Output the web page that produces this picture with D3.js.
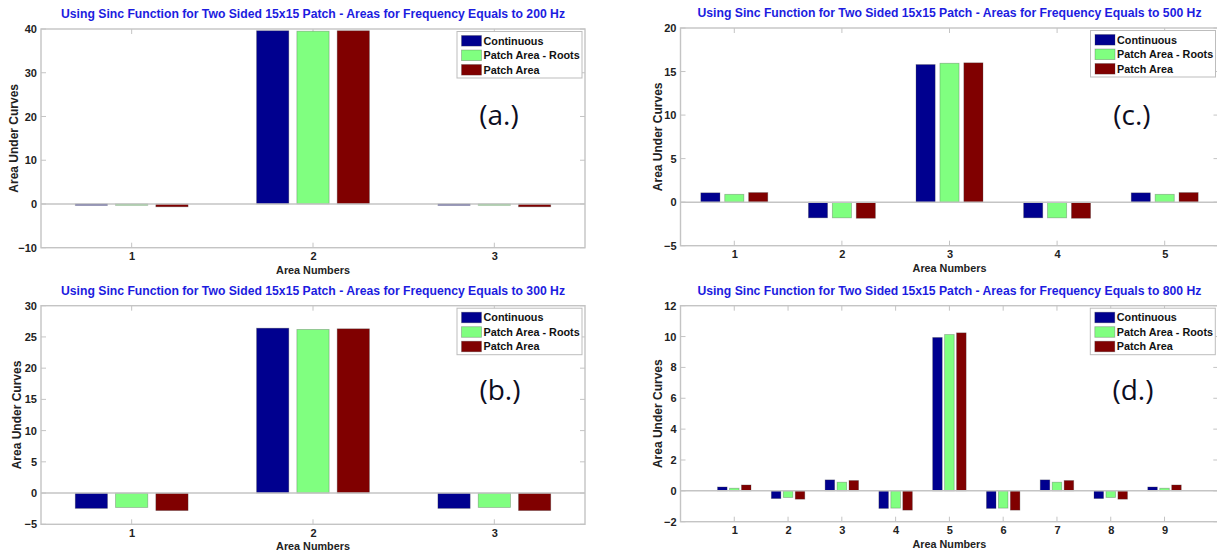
<!DOCTYPE html>
<html>
<head>
<meta charset="utf-8">
<script src="https://cdn.jsdelivr.net/npm/d3@7"></script>
<style>
  html, body { margin: 0; padding: 0; background: #fff; }
  svg { display: block; }
</style>
</head>
<body>
<svg id="fig" width="1217" height="553"></svg>
<script>
// Series shown in every panel
const seriesNames = ["Continuous", "Patch Area - Roots", "Patch Area"];

// (a.) 200 Hz
const areasA = [1, 2, 3];
const continuousA = [-0.3, 39.6, -0.3];
const rootsA = [-0.3, 39.5, -0.3];
const patchA = [-0.65, 39.6, -0.65];
const yTicksA = [-10, 0, 10, 20, 30, 40];

// (b.) 300 Hz
const areasB = [1, 2, 3];
const continuousB = [-2.45, 26.4, -2.45];
const rootsB = [-2.3, 26.2, -2.3];
const patchB = [-2.8, 26.3, -2.8];
const yTicksB = [-5, 0, 5, 10, 15, 20, 25, 30];

// (c.) 500 Hz
const areasC = [1, 2, 3, 4, 5];
const continuousC = [1.07, -1.8, 15.8, -1.8, 1.07];
const rootsC = [0.9, -1.8, 15.95, -1.8, 0.9];
const patchC = [1.1, -1.85, 16.0, -1.85, 1.1];
const yTicksC = [-5, 0, 5, 10, 15, 20];

// (d.) 800 Hz
const areasD = [1, 2, 3, 4, 5, 6, 7, 8, 9];
const continuousD = [0.25, -0.5, 0.71, -1.14, 9.94, -1.14, 0.71, -0.5, 0.25];
const rootsD = [0.17, -0.43, 0.56, -1.12, 10.13, -1.12, 0.56, -0.43, 0.17];
const patchD = [0.38, -0.54, 0.67, -1.25, 10.24, -1.25, 0.67, -0.54, 0.38];
const yTicksD = [-2, 0, 2, 4, 6, 8, 10, 12];

const frequencies = [200, 300, 500, 800];
const panelTags = ["(a.)", "(b.)", "(c.)", "(d.)"];

const colors = ["#00008f", "#80ff80", "#800000"];
const axisGray = "#c4c4c4";
const textFont = "'Liberation Sans', Arial, sans-serif";

const panels = [
  { areas: areasA, series: [continuousA, rootsA, patchA], yTicks: yTicksA, freq: frequencies[0], tag: panelTags[0],
    xDom: [0.5, 3.5], yDom: [-10, 40], left: 41, right: 585, top: 29, bottom: 247.7, yLabelX: 14, tagX: 499, tagY: 125 },
  { areas: areasB, series: [continuousB, rootsB, patchB], yTicks: yTicksB, freq: frequencies[1], tag: panelTags[1],
    xDom: [0.5, 3.5], yDom: [-5, 30], left: 41, right: 585, top: 305.7, bottom: 524.3, yLabelX: 17, tagX: 500, tagY: 400 },
  { areas: areasC, series: [continuousC, rootsC, patchC], yTicks: yTicksC, freq: frequencies[2], tag: panelTags[2],
    xDom: [0.5, 5.5], yDom: [-5, 20], left: 680.5, right: 1218.5, top: 28, bottom: 245.7, yLabelX: 658, tagX: 1132, tagY: 125 },
  { areas: areasD, series: [continuousD, rootsD, patchD], yTicks: yTicksD, freq: frequencies[3], tag: panelTags[3],
    xDom: [0, 10], yDom: [-2, 12], left: 680.5, right: 1218.3, top: 305.7, bottom: 521.7, yLabelX: 658, tagX: 1133, tagY: 400 }
];

const svg = d3.select("#fig");

// grouped bar geometry, in x-axis units
const groupOffset = 2 / 9;
const barWidth = 0.8 * groupOffset;

panels.forEach(p => {
  const g = svg.append("g");
  const x = d3.scaleLinear().domain(p.xDom).range([p.left, p.right]);
  const y = d3.scaleLinear().domain(p.yDom).range([p.bottom, p.top]);
  const tickLen = 5;

  // title
  g.append("text")
    .attr("x", (p.left + p.right) / 2)
    .attr("y", p.top - 11)
    .attr("text-anchor", "middle")
    .attr("font-family", textFont)
    .attr("font-weight", "bold")
    .attr("font-size", 12)
    .attr("fill", "#1c1ce0")
    .attr("textLength", 504)
    .attr("lengthAdjust", "spacingAndGlyphs")
    .text(`Using Sinc Function for Two Sided 15x15 Patch - Areas for Frequency Equals to ${p.freq} Hz`);

  // axes box
  g.append("rect")
    .attr("x", p.left).attr("y", p.top)
    .attr("width", p.right - p.left).attr("height", p.bottom - p.top)
    .attr("fill", "none").attr("stroke", axisGray).attr("stroke-width", 1.4);

  // inward ticks on all four sides
  const tickSel = g.append("g");
  p.yTicks.forEach(t => {
    tickSel.append("line").attr("x1", p.left).attr("x2", p.left + tickLen)
      .attr("y1", y(t)).attr("y2", y(t)).attr("stroke", axisGray).attr("stroke-width", 1);
    tickSel.append("line").attr("x1", p.right).attr("x2", p.right - tickLen)
      .attr("y1", y(t)).attr("y2", y(t)).attr("stroke", axisGray).attr("stroke-width", 1);
  });
  p.areas.forEach(a => {
    tickSel.append("line").attr("x1", x(a)).attr("x2", x(a))
      .attr("y1", p.bottom).attr("y2", p.bottom - tickLen).attr("stroke", axisGray).attr("stroke-width", 1);
    tickSel.append("line").attr("x1", x(a)).attr("x2", x(a))
      .attr("y1", p.top).attr("y2", p.top + tickLen).attr("stroke", axisGray).attr("stroke-width", 1);
  });

  // tick labels via d3 axes (domain path and tick lines hidden)
  const yAxis = d3.axisLeft(y).tickValues(p.yTicks).tickSize(0).tickPadding(4);
  const ya = g.append("g").attr("transform", `translate(${p.left},0)`).call(yAxis);
  const xAxis = d3.axisBottom(x).tickValues(p.areas).tickFormat(d3.format("d")).tickSize(0).tickPadding(5);
  const xa = g.append("g").attr("transform", `translate(0,${p.bottom})`).call(xAxis);
  [ya, xa].forEach(ax => {
    ax.select(".domain").remove();
    ax.selectAll("text")
      .attr("font-family", textFont)
      .attr("font-weight", "bold")
      .attr("font-size", 11)
      .attr("fill", "#222");
  });

  // axis titles
  g.append("text")
    .attr("x", (p.left + p.right) / 2)
    .attr("y", p.bottom + 26)
    .attr("text-anchor", "middle")
    .attr("font-family", textFont).attr("font-weight", "bold").attr("font-size", 10.8)
    .attr("fill", "#222")
    .text("Area Numbers");
  g.append("text")
    .attr("transform", `translate(${p.yLabelX},${(p.top + p.bottom) / 2}) rotate(-90)`)
    .attr("text-anchor", "middle")
    .attr("dy", "0.35em")
    .attr("font-family", textFont).attr("font-weight", "bold").attr("font-size", 12)
    .attr("fill", "#222")
    .text("Area Under Curves");

  // bars
  p.series.forEach((vals, si) => {
    g.append("g").selectAll("rect")
      .data(vals.map((v, i) => ({ area: p.areas[i], v })))
      .join("rect")
      .attr("x", d => x(d.area + (si - 1) * groupOffset - barWidth / 2))
      .attr("width", d => x(d.area + barWidth / 2) - x(d.area - barWidth / 2))
      .attr("y", d => y(Math.max(0, d.v)))
      .attr("height", d => Math.abs(y(d.v) - y(0)))
      .attr("fill", colors[si])
      .attr("stroke", "rgba(60,60,60,0.35)")
      .attr("stroke-width", 0.8);
  });

  // zero baseline
  g.append("line")
    .attr("x1", p.left).attr("x2", p.right)
    .attr("y1", y(0)).attr("y2", y(0))
    .attr("stroke", axisGray).attr("stroke-width", 1.5);

  // legend
  const lw = 125, lh = 46.5;
  const lx = p.right - 128, ly = p.top + 2.5;
  const lg = g.append("g").attr("transform", `translate(${lx},${ly})`);
  lg.append("rect").attr("width", lw).attr("height", lh)
    .attr("fill", "#fff").attr("stroke", "#bdbdbd").attr("stroke-width", 1);
  seriesNames.forEach((name, i) => {
    const cy = 9.3 + i * 14.5;
    lg.append("rect").attr("x", 4.5).attr("y", cy - 5.3).attr("width", 20).attr("height", 10.6)
      .attr("fill", colors[i]).attr("stroke", "rgba(60,60,60,0.35)").attr("stroke-width", 0.8);
    lg.append("text").attr("x", 26.5).attr("y", cy).attr("dy", "0.36em")
      .attr("font-family", textFont).attr("font-weight", "bold").attr("font-size", 10.8)
      .attr("fill", "#111")
      .text(name);
  });

  // panel tag
  g.append("text")
    .attr("x", p.tagX).attr("y", p.tagY)
    .attr("text-anchor", "middle")
    .attr("font-family", "'Open Sans', sans-serif")
    .attr("font-size", 28)
    .attr("fill", "#0d0d1f")
    .text(p.tag);
});
</script>
</body>
</html>
